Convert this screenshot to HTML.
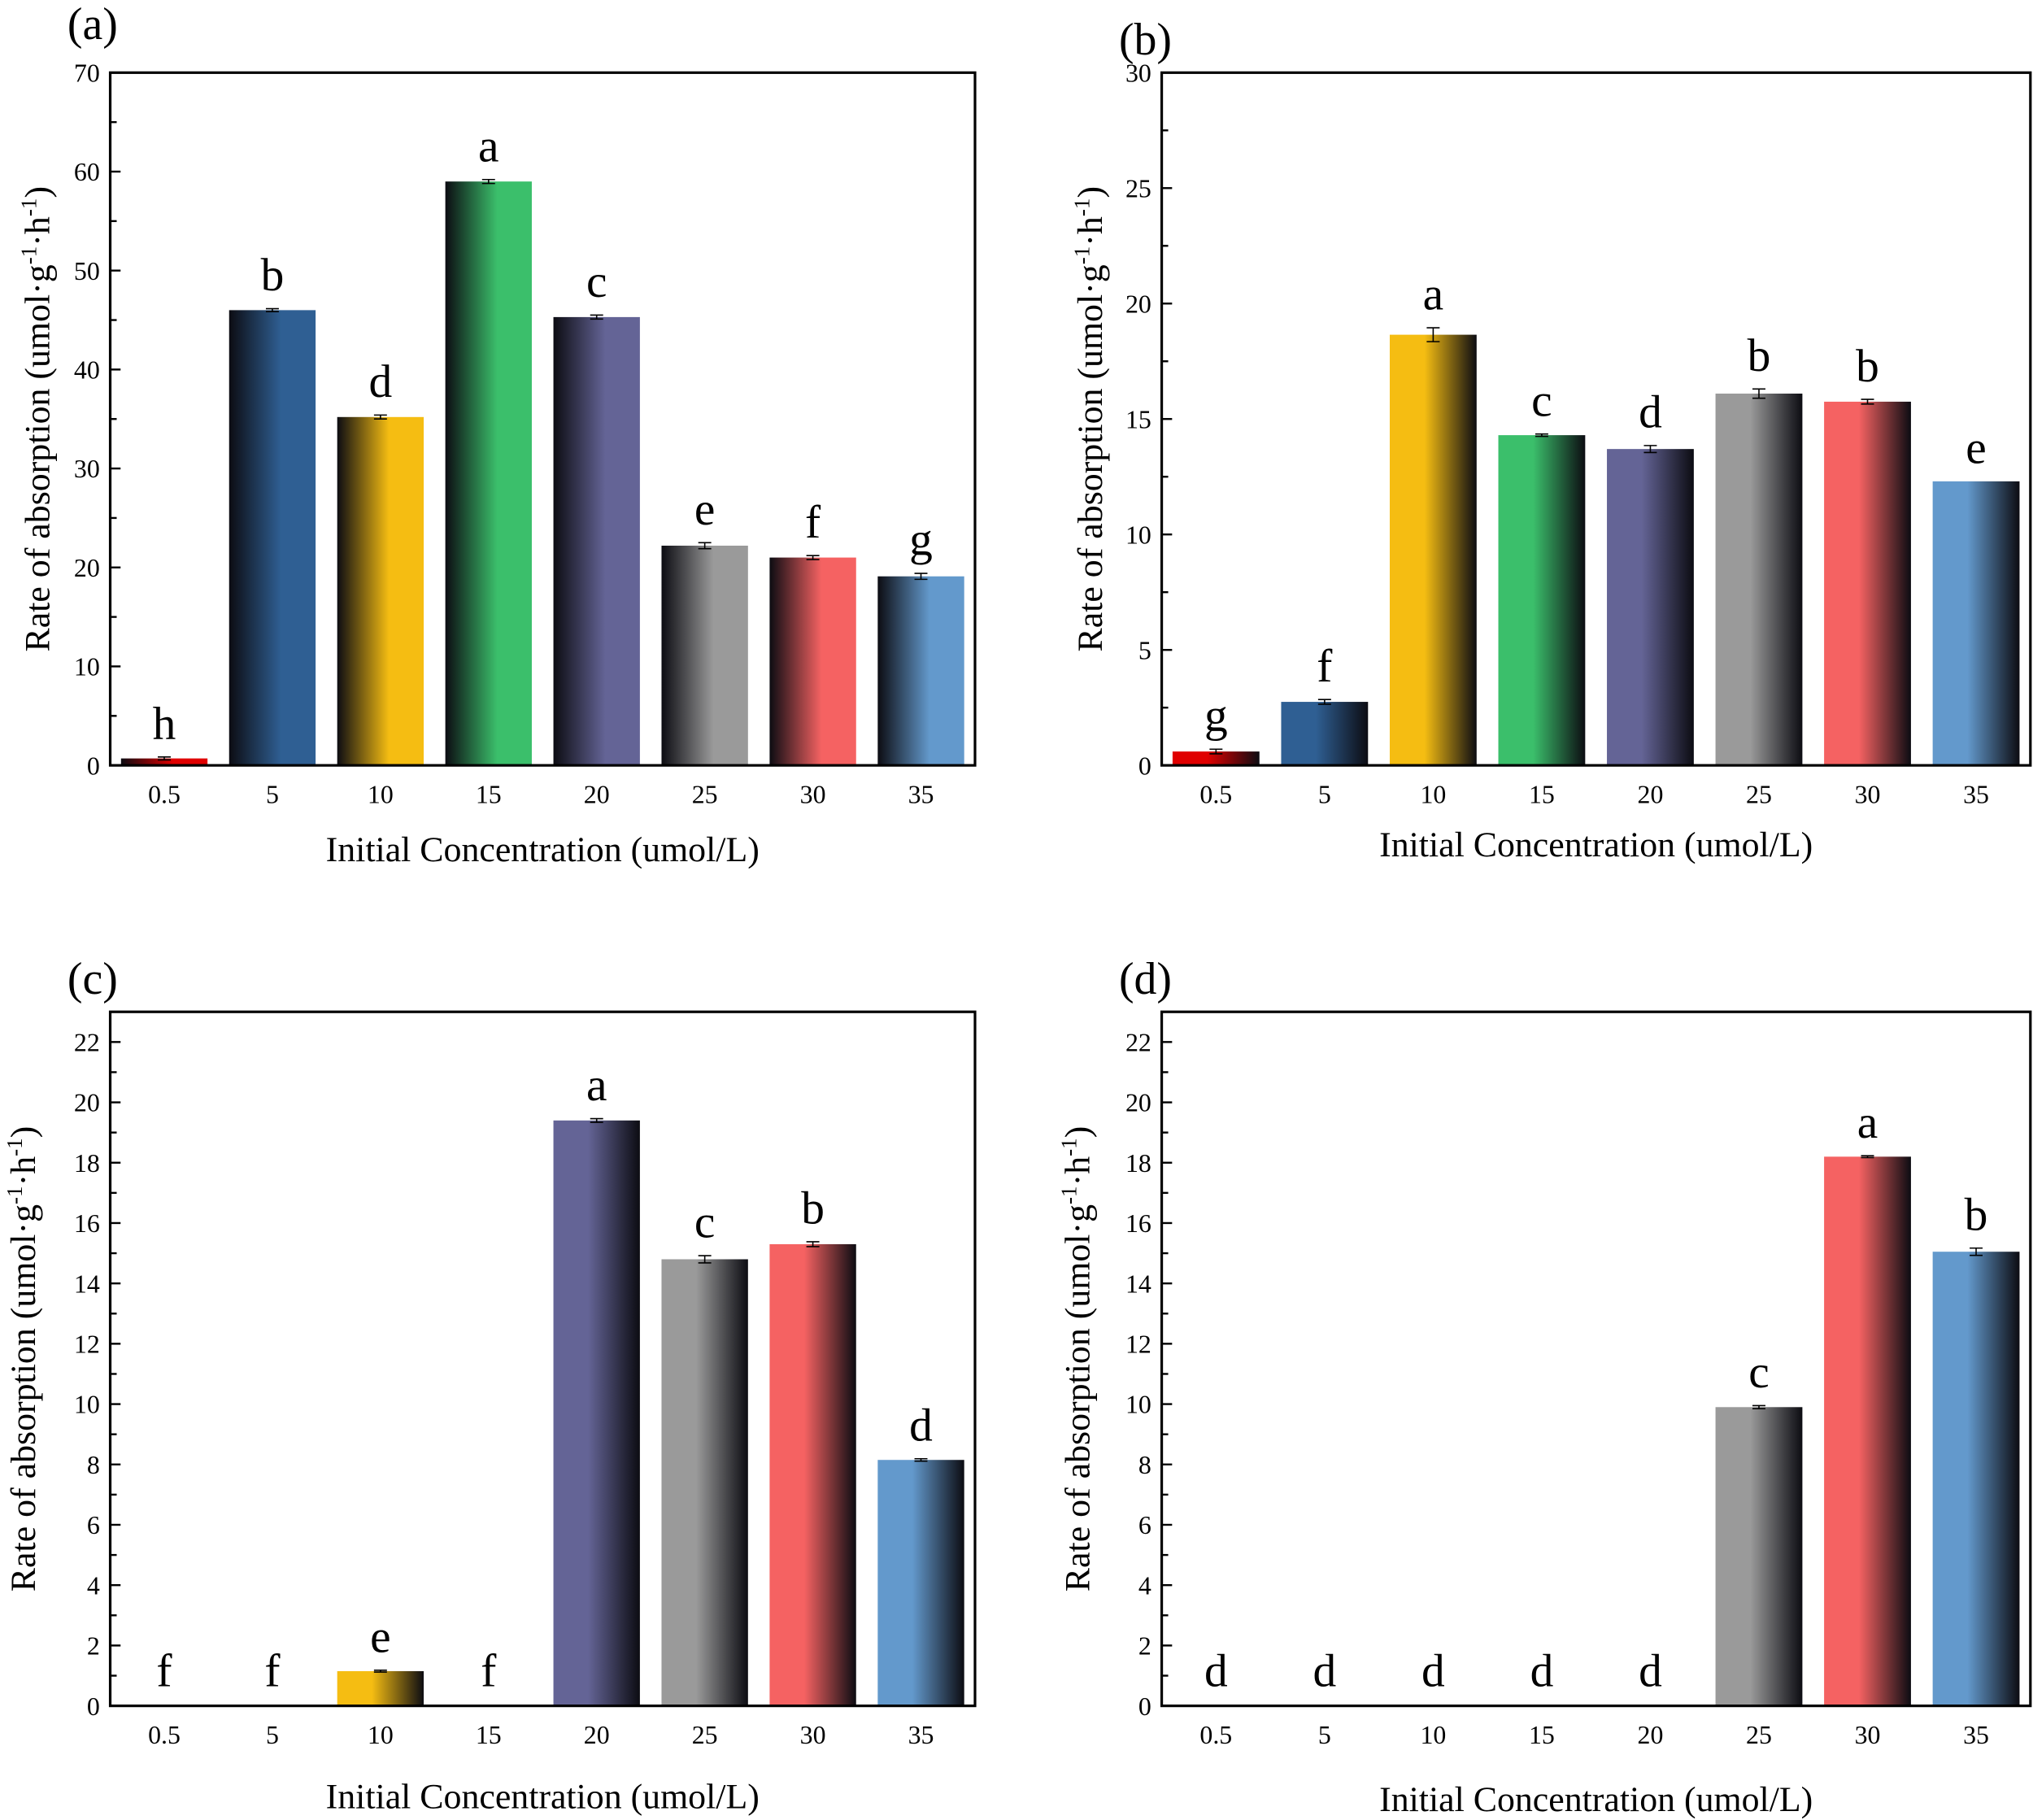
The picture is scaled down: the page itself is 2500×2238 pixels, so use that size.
<!DOCTYPE html>
<html><head><meta charset="utf-8"><style>
html,body{margin:0;padding:0;background:#fff}
svg{display:block}
text{font-family:"Liberation Serif",serif;fill:#000}
</style></head><body>
<svg id="fig" width="2500" height="2238" viewBox="0 0 1568 1403" preserveAspectRatio="none" xmlns="http://www.w3.org/2000/svg">
<defs id="defs"></defs>
</svg>
<script>
const categories = ["0.5","5","10","15","20","25","30","35"];
const valuesA = [0.7, 46.0, 35.2, 59.0, 45.3, 22.2, 21.0, 19.1];
const errorsA = [0.15, 0.15, 0.2, 0.2, 0.2, 0.3, 0.2, 0.3];
const lettersA = ["h","b","d","a","c","e","f","g"];
const valuesB = [0.6, 2.75, 18.65, 14.3, 13.7, 16.1, 15.75, 12.3];
const errorsB = [0.1, 0.1, 0.3, 0.05, 0.15, 0.2, 0.1, 0.0];
const lettersB = ["g","f","a","c","d","b","b","e"];
const valuesC = [0, 0, 1.15, 0, 19.4, 14.8, 15.3, 8.15];
const errorsC = [0, 0, 0.03, 0, 0.06, 0.12, 0.08, 0.04];
const lettersC = ["f","f","e","f","a","c","b","d"];
const valuesD = [0, 0, 0, 0, 0, 9.9, 18.2, 15.05];
const errorsD = [0, 0, 0, 0, 0, 0.05, 0.03, 0.12];
const lettersD = ["d","d","d","d","d","c","a","b"];
const ticksA = [0,10,20,30,40,50,60,70];
const ticksB = [0,5,10,15,20,25,30];
const ticksCD = [0,2,4,6,8,10,12,14,16,18,20,22];

const colors = ['#e00000','#2f5f93','#f5bd12','#3bbf6b','#646496','#9a9a9a','#f56262','#6399cc'];
const NS = 'http://www.w3.org/2000/svg';
const svg = document.getElementById('fig');
const defs = document.getElementById('defs');
function mk(tag, attrs, parent){const e=document.createElementNS(NS,tag);for(const k in attrs)e.setAttribute(k,attrs[k]);(parent||svg).appendChild(e);return e;}

function grad(id, color, darkLeft){
  const g = mk('linearGradient',{id:id,x1:'0',y1:'0',x2:'1',y2:'0'},defs);
  if(darkLeft){
    mk('stop',{offset:'0','stop-color':'#0c0c12'},g);
    mk('stop',{offset:'0.6','stop-color':color},g);
    mk('stop',{offset:'1','stop-color':color},g);
  } else {
    mk('stop',{offset:'0','stop-color':color},g);
    mk('stop',{offset:'0.4','stop-color':color},g);
    mk('stop',{offset:'1','stop-color':'#0c0c12'},g);
  }
}

function panel(p){
  const g = mk('g',{});
  
  
  const L=p.left,R=p.right,T=p.top,B=p.bottom;
  const y = v => B - (v - 0)/(p.ymax) * (B - T);
  const step = (R-L)/8;
  const x = i => L + step*(i+0.5);
  const bw = step*0.8;
  p.values.forEach((v,i)=>{
    const gid='g'+p.id+i;
    grad(gid, colors[i], p.darkLeft);
    if(v>0){
      const r = mk('rect',{x:x(i)-bw/2,y:y(v),width:bw,height:B-y(v),fill:'url(#'+gid+')'},g);
      
      
      const e=p.errors[i];
      if(e>0){
        const eb = mk('path',{d:`M${x(i)-5},${y(v+e)}H${x(i)+5}M${x(i)},${y(v+e)}V${y(v-e)}M${x(i)-5},${y(v-e)}H${x(i)+5}`,stroke:'#000','stroke-width':1,fill:'none'},g);
        
        
      }
    }
    const ly = v>0 ? y(v+p.errors[i]) - 14 : B - 15;
    const t = mk('text',{x:x(i),y:ly,'text-anchor':'middle','font-size':36},g);
    t.textContent = p.letters[i];
    
    
    const xt = mk('text',{x:x(i),y:B+29,'text-anchor':'middle','font-size':20},g);
    xt.textContent = categories[i];
    
    
  });
  const fr = mk('rect',{x:L,y:T,width:R-L,height:B-T,fill:'none',stroke:'#000','stroke-width':2},g);
  
  
  const tstep = p.ticks[1]-p.ticks[0];
  for(let v=0; v<=p.ymax+1e-9; v+=tstep/2){
    const major = Math.abs(v/tstep - Math.round(v/tstep))<1e-6;
    mk('line',{x1:L,x2:L+(major?8:5),y1:y(v),y2:y(v),stroke:'#000','stroke-width':1.5},g);
  }
  p.ticks.forEach(v=>{
    const t = mk('text',{x:L-8,y:y(v)+7,'text-anchor':'end','font-size':20},g);
    t.textContent = v;
    
    
  });
  const xt = mk('text',{x:(L+R)/2,y:p.xlabY,'text-anchor':'middle','font-size':27.5},g);
  xt.textContent='Initial Concentration (umol/L)';
  
  
  const yt = mk('text',{x:0,y:0,'text-anchor':'middle','font-size':27.5,transform:`translate(${p.ylabX},${(T+B)/2}) rotate(-90)`},g);
  yt.innerHTML = 'Rate of absorption (umol·g<tspan dy="-10" font-size="17">-1</tspan><tspan dy="10">·h</tspan><tspan dy="-10" font-size="17">-1</tspan><tspan dy="10">)</tspan>';
  
  
  const pl = mk('text',{x:p.plX,y:p.plY,'font-size':35},g);
  pl.textContent='('+p.id+')';
  
  
}

panel({id:'a',left:85,right:752,top:56,bottom:590,ymax:70,ticks:ticksA,values:valuesA,errors:errorsA,letters:lettersA,darkLeft:true,xlabY:664,ylabX:38,plX:52,plY:30});
panel({id:'b',left:896,right:1566,top:56,bottom:590,ymax:30,ticks:ticksB,values:valuesB,errors:errorsB,letters:lettersB,darkLeft:false,xlabY:660,ylabX:850,plX:863,plY:42});
panel({id:'c',left:85,right:752,top:780,bottom:1315,ymax:23,ticks:ticksCD,values:valuesC,errors:errorsC,letters:lettersC,darkLeft:false,xlabY:1394,ylabX:27,plX:52,plY:766});
panel({id:'d',left:896,right:1566,top:780,bottom:1315,ymax:23,ticks:ticksCD,values:valuesD,errors:errorsD,letters:lettersD,darkLeft:false,xlabY:1396,ylabX:840,plX:863,plY:766});
</script>
</body></html>
